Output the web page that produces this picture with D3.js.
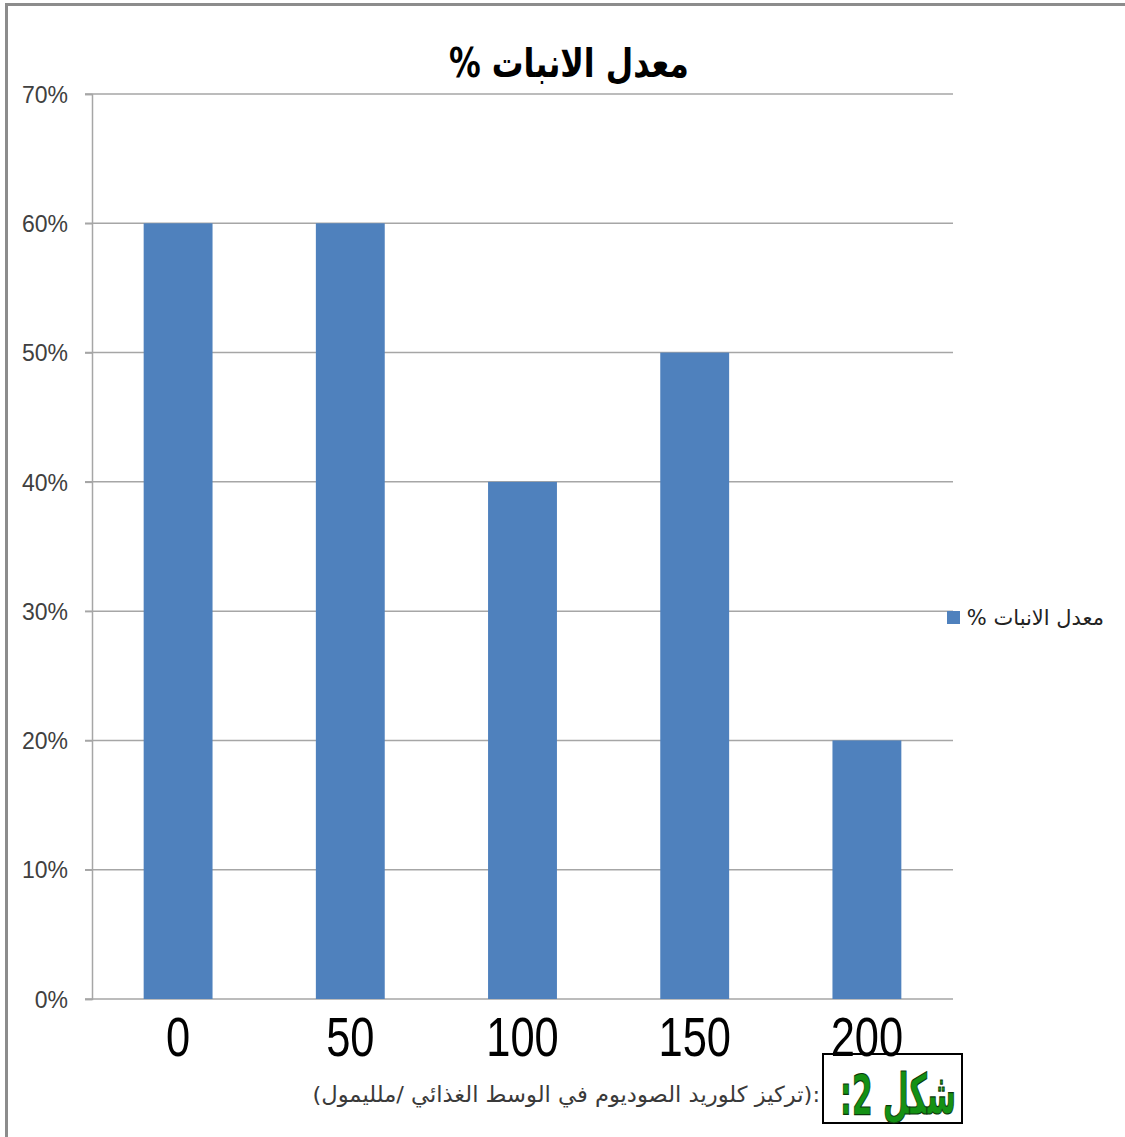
<!DOCTYPE html>
<html>
<head>
<meta charset="utf-8">
<script src="https://cdn.jsdelivr.net/npm/d3@7"></script>
<style>
  html, body { margin: 0; padding: 0; background: #fff; }
  svg { display: block; }
</style>
</head>
<body>
<svg id="chart" width="1125" height="1137"></svg>
<script>
// Germination rate (%) by sodium chloride concentration (mmol)
const categories = ["0", "50", "100", "150", "200"];
const germination = [60, 60, 40, 50, 20];
const yTicks = [0, 10, 20, 30, 40, 50, 60, 70];

const titleText = "معدل الانبات %";
const legendText = "معدل الانبات %";
const captionText = ":(تركيز كلوريد الصوديوم في الوسط الغذائي /ملليمول)";
const figureLabel = "شكل 2:";

const svg = d3.select("#chart");
const arabicFont = "'DejaVu Sans', sans-serif";

// squeeze a text element horizontally so it spans the given width
function fitWidth(sel, width, tx, ty) {
  const len = sel.node().getComputedTextLength();
  sel.attr("transform", `translate(${tx},${ty}) scale(${width / len},1)`);
}

// outer frame (left and top edges)
svg.append("line").attr("x1", 6.5).attr("x2", 6.5).attr("y1", 4).attr("y2", 1137)
  .attr("stroke", "#8c8c8c").attr("stroke-width", 3);
svg.append("line").attr("x1", 5).attr("x2", 1125).attr("y1", 4.5).attr("y2", 4.5)
  .attr("stroke", "#8c8c8c").attr("stroke-width", 3);

const plot = { left: 92, right: 953, top: 94, bottom: 999 };

const x = d3.scaleBand().domain(categories)
  .range([plot.left, plot.right]).paddingInner(0.6).paddingOuter(0.3);
const y = d3.scaleLinear().domain([0, 70]).range([plot.bottom, plot.top]);

// horizontal gridlines
svg.append("g").selectAll("line").data(yTicks).join("line")
  .attr("x1", plot.left - 7).attr("x2", plot.right)
  .attr("y1", d => y(d)).attr("y2", d => y(d))
  .attr("stroke", "#a6a6a6").attr("stroke-width", 1.5);

// bars
svg.append("g").selectAll("rect").data(germination).join("rect")
  .attr("x", (d, i) => x(categories[i]))
  .attr("width", x.bandwidth())
  .attr("y", d => y(d))
  .attr("height", d => y(0) - y(d))
  .attr("fill", "#4f81bd");

// y axis
const yAxis = d3.axisLeft(y).tickValues(yTicks).tickSize(7).tickPadding(17)
  .tickFormat(d => d + "%");
const gy = svg.append("g").attr("transform", `translate(${plot.left},0)`).call(yAxis);
gy.select(".domain").attr("stroke", "#a6a6a6").attr("stroke-width", 1.5);
gy.selectAll(".tick line").attr("stroke", "#a6a6a6").attr("stroke-width", 1.5);
gy.selectAll(".tick text")
  .attr("font-family", "'Liberation Sans', Arial, sans-serif")
  .attr("font-size", 23).attr("fill", "#404040").attr("dy", "0.36em");

// caption, scaled horizontally to its line width
const cap = svg.append("text").attr("direction", "rtl").attr("text-anchor", "start")
  .attr("font-family", arabicFont).attr("font-size", 22).attr("fill", "#3a3a3a")
  .text(captionText);
fitWidth(cap, 508, 820, 1102);

// figure label box
svg.append("rect").attr("x", 823).attr("y", 1054).attr("width", 139).attr("height", 69)
  .attr("fill", "#fff").attr("stroke", "#000").attr("stroke-width", 2);
const fig = svg.append("text").attr("direction", "rtl").attr("text-anchor", "middle")
  .attr("font-family", arabicFont).attr("font-weight", "bold")
  .attr("font-size", 56).attr("fill", "#149114")
  .attr("stroke", "#0a3a0a").attr("stroke-width", 1.2)
  .text(figureLabel);
fitWidth(fig, 116, 898, 1114);

// x axis labels (narrowed digits)
const xAxis = d3.axisBottom(x).tickSize(0).tickPadding(57);
const gx = svg.append("g").attr("transform", `translate(0,${plot.bottom})`).call(xAxis);
gx.select(".domain").remove();
gx.selectAll(".tick text")
  .attr("font-family", "'Liberation Sans', Arial, sans-serif")
  .attr("font-size", 55).attr("fill", "#000").attr("dy", 0)
  .attr("transform", "scale(0.79,1)");

// title
const title = svg.append("text").attr("text-anchor", "middle").attr("direction", "rtl")
  .attr("font-family", arabicFont).attr("font-weight", "bold")
  .attr("font-size", 40).attr("fill", "#000").text(titleText);
fitWidth(title, 240, 569, 77);

// legend
svg.append("rect").attr("x", 947).attr("y", 611).attr("width", 13).attr("height", 13)
  .attr("fill", "#4f81bd");
svg.append("text").attr("x", 1104).attr("y", 625)
  .attr("text-anchor", "start").attr("direction", "rtl")
  .attr("font-family", arabicFont).attr("font-size", 21).attr("fill", "#222")
  .text(legendText);
</script>
</body>
</html>
